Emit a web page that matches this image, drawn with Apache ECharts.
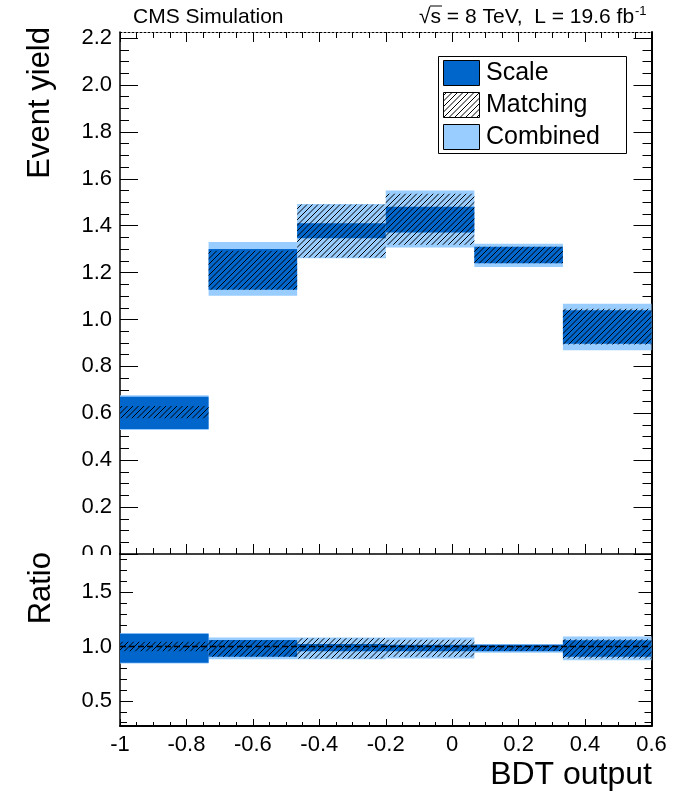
<!DOCTYPE html>
<html><head><meta charset="utf-8">
<script src="https://cdn.jsdelivr.net/npm/echarts@6/dist/echarts.min.js"></script>
<style>html,body{margin:0;padding:0;background:#fff}#c{width:687px;height:794px}</style>
</head><body><div id="c"></div>
<script>
// ---- data ----
const binEdges = [-1, -0.7333, -0.4667, -0.2, 0.0667, 0.3333, 0.6];
// upper pad: event yield bands [low, high] per bin
const combinedLow  = [0.529, 1.101, 1.261, 1.307, 1.224, 0.869];
const combinedHigh = [0.677, 1.331, 1.493, 1.550, 1.323, 1.067];
const scaleLow     = [0.533, 1.127, 1.346, 1.371, 1.240, 0.897];
const scaleHigh    = [0.671, 1.301, 1.410, 1.481, 1.310, 1.039];
const matchingLow  = [0.579, 1.127, 1.264, 1.319, 1.240, 0.893];
const matchingHigh = [0.631, 1.293, 1.490, 1.536, 1.310, 1.046];
// lower pad: ratio bands
const ratioCombinedLow  = [0.843, 0.883, 0.883, 0.890, 0.943, 0.873];
const ratioCombinedHigh = [1.123, 1.083, 1.083, 1.083, 1.023, 1.093];
const ratioScaleLow     = [0.850, 0.907, 0.957, 0.957, 0.957, 0.907];
const ratioScaleHigh    = [1.117, 1.060, 1.023, 1.017, 1.017, 1.057];
const ratioMatchingLow  = [0.957, 0.907, 0.890, 0.907, 0.960, 0.890];
const ratioMatchingHigh = [1.043, 1.057, 1.077, 1.063, 1.010, 1.067];
const ratioReference = 1.0;
// ticks
const xTickValues = [-1, -0.8, -0.6, -0.4, -0.2, 0, 0.2, 0.4, 0.6];
const xTickLabels = ['-1', '-0.8', '-0.6', '-0.4', '-0.2', '0', '0.2', '0.4', '0.6'];
const yUpperTicks = [0, 0.2, 0.4, 0.6, 0.8, 1.0, 1.2, 1.4, 1.6, 1.8, 2.0, 2.2];
const yUpperLabels = ['0.0','0.2','0.4','0.6','0.8','1.0','1.2','1.4','1.6','1.8','2.0','2.2'];
const yRatioTicks = [0.5, 1.0, 1.5];
const yRatioLabels = ['0.5', '1.0', '1.5'];
const seriesNames = ['Scale', 'Matching', 'Combined'];

// ---- ranges / helpers ----
const X_MIN = -1, X_MAX = 0.6, Y_MAX = 2.226, R_MIN = 0.27, R_MAX = 1.85;
function range(a, b, step, exclude) {
  const out = [];
  for (let i = 0; a + i * step <= b + 1e-9; i++) {
    const v = Math.round((a + i * step) * 1000) / 1000;
    if (!exclude.some(e => Math.abs(e - v) < 1e-6)) out.push(v);
  }
  return out;
}
const xMinor = range(-1, 0.6, 0.05, xTickValues);
const yUpperMinor = range(0, 2.2, 0.05, yUpperTicks);
const yRatioMinor = range(0.3, 1.8, 0.1, yRatioTicks);

const FONT = '"Liberation Sans", Arial, Helvetica, sans-serif';
const DARK = '#0066cc', LIGHT = '#99ccff';

function makeHatch() {
  const s = 11, c = document.createElement('canvas');
  c.width = s; c.height = s;
  const g = c.getContext('2d');
  g.strokeStyle = '#000'; g.lineWidth = 1;
  for (const k of [-s, -s / 2, 0, s / 2, s]) {
    g.beginPath(); g.moveTo(k, s); g.lineTo(k + s, 0); g.stroke();
  }
  return c;
}
const HATCH = { image: makeHatch(), repeat: 'repeat' };

function band(name, lows, highs, fill, xi, yi, z) {
  return {
    type: 'custom', name, xAxisIndex: xi, yAxisIndex: yi, z, silent: true, animation: false,
    data: lows.map((lo, i) => [binEdges[i], binEdges[i + 1], lo, highs[i]]),
    encode: { x: [0, 1], y: [2, 3] },
    renderItem: (params, api) => {
      const p0 = api.coord([api.value(0), api.value(3)]);
      const p1 = api.coord([api.value(1), api.value(2)]);
      return { type: 'rect', shape: { x: p0[0], y: p0[1], width: p1[0] - p0[0], height: p1[1] - p0[1] },
               style: { fill: fill, stroke: null } };
    }
  };
}

function xAx(grid, pos, ticks, len, opts) {
  opts = opts || {};
  return {
    gridIndex: grid, type: 'value', min: X_MIN, max: X_MAX, position: pos, offset: 0, z: opts.z || 0,
    axisLine: { show: !!opts.line, onZero: false, lineStyle: Object.assign({ color: '#000', width: 1.5 }, opts.lineStyle || {}) },
    axisTick: { show: true, inside: true, length: len, customValues: ticks, lineStyle: { color: '#000', width: 1 } },
    axisLabel: opts.labels ? {
      show: true, customValues: xTickValues, margin: 8, color: '#000', fontSize: 22, fontFamily: FONT,
      formatter: v => { const i = xTickValues.findIndex(t => Math.abs(t - v) < 1e-6); return i >= 0 ? xTickLabels[i] : ''; }
    } : { show: false },
    splitLine: { show: false }, minorTick: { show: false }
  };
}
function yAx(grid, pos, min, max, ticks, len, opts) {
  opts = opts || {};
  return {
    gridIndex: grid, type: 'value', min: min, max: max, position: pos, offset: 0, z: opts.z || 0,
    axisLine: { show: !!opts.line, onZero: false, lineStyle: { color: '#000', width: opts.lw || 1.5 } },
    axisTick: { show: true, inside: true, length: len, customValues: ticks, lineStyle: { color: '#000', width: 1 } },
    axisLabel: opts.labels ? {
      show: true, customValues: opts.labelValues, margin: 8, color: '#000', fontSize: 22, fontFamily: FONT,
      formatter: v => { const i = opts.labelValues.findIndex(t => Math.abs(t - v) < 1e-6); return i >= 0 ? opts.labelTexts[i] : ''; }
    } : { show: false },
    splitLine: { show: false }, minorTick: { show: false }
  };
}

const chart = echarts.init(document.getElementById('c'), null, { renderer: 'canvas', width: 687, height: 794 });

const option = {
  backgroundColor: '#fff',
  animation: false,
  grid: [
    { left: 120, top: 32, width: 531.5, height: 522, show: false, outerBoundsMode: 'none' },
    { left: 120, top: 554, width: 531.5, height: 172, show: false, outerBoundsMode: 'none' }
  ],
  xAxis: [
    xAx(0, 'bottom', xTickValues, 10, { line: true }),
    xAx(0, 'bottom', xMinor, 6),
    xAx(0, 'top', xTickValues, 10, { line: true, lineStyle: { width: 1, type: [2, 2] } }),
    xAx(0, 'top', xMinor, 6),
    xAx(1, 'bottom', xTickValues, 7, { line: true, labels: true, z: 3, lineStyle: { width: 2 } }),
    xAx(1, 'bottom', xMinor, 4, { z: 3 })
  ],
  yAxis: [
    yAx(0, 'left', 0, Y_MAX, yUpperTicks, 18, { line: true, labels: true, labelValues: yUpperTicks, labelTexts: yUpperLabels }),
    yAx(0, 'left', 0, Y_MAX, yUpperMinor, 9),
    yAx(0, 'right', 0, Y_MAX, yUpperTicks, 18, { line: true, lw: 2 }),
    yAx(0, 'right', 0, Y_MAX, yUpperMinor, 9),
    yAx(1, 'left', R_MIN, R_MAX, yRatioTicks, 13, { line: true, labels: true, labelValues: yRatioTicks, labelTexts: yRatioLabels, z: 3 }),
    yAx(1, 'left', R_MIN, R_MAX, yRatioMinor, 7, { z: 3 }),
    yAx(1, 'right', R_MIN, R_MAX, yRatioTicks, 13, { line: true, lw: 2, z: 3 }),
    yAx(1, 'right', R_MIN, R_MAX, yRatioMinor, 7, { z: 3 })
  ],
  series: [
    band(seriesNames[2], combinedLow, combinedHigh, LIGHT, 0, 0, 2),
    band(seriesNames[0], scaleLow, scaleHigh, DARK, 0, 0, 2),
    band(seriesNames[1], matchingLow, matchingHigh, HATCH, 0, 0, 2),
    band(seriesNames[2] + ' ratio', ratioCombinedLow, ratioCombinedHigh, LIGHT, 4, 4, 4),
    band(seriesNames[0] + ' ratio', ratioScaleLow, ratioScaleHigh, DARK, 4, 4, 4),
    band(seriesNames[1] + ' ratio', ratioMatchingLow, ratioMatchingHigh, HATCH, 4, 4, 4),
    {
      type: 'line', xAxisIndex: 4, yAxisIndex: 4, z: 5, symbol: 'none', silent: true,
      data: [[X_MIN, ratioReference], [X_MAX, ratioReference]],
      lineStyle: { color: '#000', width: 1.5, type: [6, 3] }
    }
  ],
  graphic: [
    // lower pad covers the bottom of the upper pad
    { type: 'rect', z: 1, silent: true, shape: { x: 0, y: 555, width: 687, height: 239 }, style: { fill: '#fff' } },
    { type: 'text', z: 10, x: 133, y: 17, style: { text: 'CMS Simulation', font: '21px ' + FONT, fill: '#000', textVerticalAlign: 'middle' } },
    { type: 'text', z: 10, x: 419, y: 17, style: { text: '√s = 8 TeV,  L = 19.6 fb', font: '21px ' + FONT, fill: '#000', textVerticalAlign: 'middle' } },
    { type: 'text', z: 10, x: 635, y: 11, style: { text: '-1', font: '13px ' + FONT, fill: '#000', textVerticalAlign: 'middle' } },
    { type: 'line', z: 10, shape: { x1: 430, y1: 6, x2: 442, y2: 6 }, style: { stroke: '#000', lineWidth: 1 } },
    // axis titles
    { type: 'text', z: 10, x: 40, y: 27, rotation: Math.PI / 2,
      style: { text: 'Event yield', font: '31px ' + FONT, fill: '#000', textAlign: 'right', textVerticalAlign: 'middle' } },
    { type: 'text', z: 10, x: 41, y: 552, rotation: Math.PI / 2,
      style: { text: 'Ratio', font: '31px ' + FONT, fill: '#000', textAlign: 'right', textVerticalAlign: 'middle' } },
    { type: 'text', z: 10, x: 652, y: 775,
      style: { text: 'BDT output', font: '32px ' + FONT, fill: '#000', textAlign: 'right', textVerticalAlign: 'middle' } },
    // legend
    { type: 'rect', z: 10, shape: { x: 438.5, y: 56.5, width: 188, height: 97 }, style: { fill: '#fff', stroke: '#000', lineWidth: 1 } },
    { type: 'rect', z: 11, shape: { x: 443.5, y: 60.5, width: 36, height: 25 }, style: { fill: DARK, stroke: '#000', lineWidth: 1 } },
    { type: 'rect', z: 11, shape: { x: 443.5, y: 92.5, width: 36, height: 25 }, style: { fill: HATCH, stroke: '#000', lineWidth: 1 } },
    { type: 'rect', z: 11, shape: { x: 443.5, y: 124.5, width: 36, height: 25 }, style: { fill: LIGHT, stroke: '#000', lineWidth: 1 } },
    { type: 'text', z: 11, x: 486, y: 73, style: { text: seriesNames[0], font: '25px ' + FONT, fill: '#000', textVerticalAlign: 'middle' } },
    { type: 'text', z: 11, x: 486, y: 105, style: { text: seriesNames[1], font: '25px ' + FONT, fill: '#000', textVerticalAlign: 'middle' } },
    { type: 'text', z: 11, x: 486, y: 137, style: { text: seriesNames[2], font: '25px ' + FONT, fill: '#000', textVerticalAlign: 'middle' } }
  ]
};
chart.setOption(option);
</script>
</body></html>
